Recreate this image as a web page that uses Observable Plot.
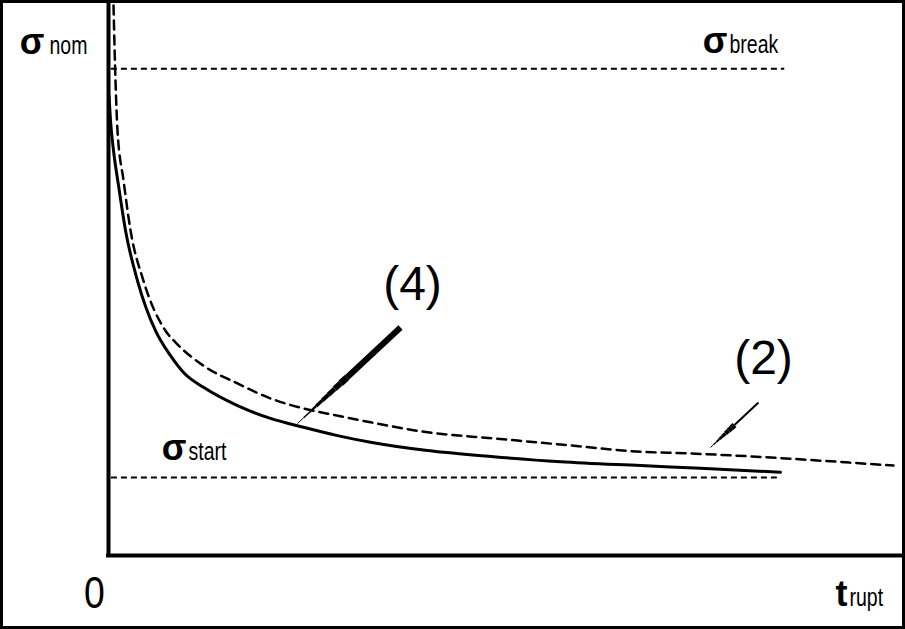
<!DOCTYPE html>
<html>
<head>
<meta charset="utf-8">
<script src="https://cdn.jsdelivr.net/npm/d3@7"></script>
<script src="https://cdn.jsdelivr.net/npm/@observablehq/plot@0.6"></script>
<style>
  html, body { margin: 0; padding: 0; background: #fff; }
  #chart svg { display: block; outline: 3px solid #000; outline-offset: -3px; }
</style>
</head>
<body>
<div id="chart"></div>
<script>
// ---- data (arbitrary units: t 0..100, sigma 0..100) ----
const curve4T     = [0.06, 0.25, 0.63, 1.26, 2.14, 3.65, 5.91, 7.80, 9.56, 11.95, 16.23, 20.38, 24.53, 28.81, 32.96, 40.13, 48.43, 56.86, 66.92, 74.47, 84.53];
const curve4Sigma = [82.9, 78.4, 72.97, 66.67, 58.56, 49.5, 40.5, 36.0, 32.79, 30.3, 27.0, 24.7, 23.1, 21.6, 20.4, 18.9, 17.8, 16.9, 16.2, 15.7, 15.0];

const curve2T     = [0.63, 0.88, 1.13, 1.89, 2.77, 4.40, 7.17, 8.43, 11.95, 16.23, 20.38, 24.53, 28.81, 32.96, 40.13, 48.43, 56.86, 66.92, 72.83, 98.74];
const curve2Sigma = [99.1, 85.6, 76.6, 67.6, 58.6, 49.5, 40.5, 38.4, 34.2, 31.0, 28.3, 26.5, 25.2, 24.0, 22.2, 21.1, 20.0, 18.7, 18.4, 16.2];

const levelNames  = ["break", "start"];
const levelValues = [87.7, 14.05];
const levelT1     = [0.3, 0.3];
const levelT2     = [85.0, 84.5];

// symbol labels: main glyph + subscript
const symbolMain  = ["σ", "σ", "σ", "t"];
const symbolSub   = ["nom", "break", "start", "rupt"];
const symbolMainT = [-8.05, 77.86, 9.81, 92.96];
const symbolSubT  = [-7.42, 78.11, 10.06, 93.21];
const symbolY     = [90.45, 90.63, 17.12, -9.01];

const curveLabels  = ["(4)", "(2)"];
const curveLabelT  = [38.24, 82.39];
const curveLabelY  = [45.95, 32.79];

const originLabel = ["0"];
const originT = [-1.76];
const originY = [-9.37];

// arrows: tail -> tip, taper start fraction
const arrowTailT = [36.73, 81.76];
const arrowTailY = [41.08, 27.57];
const arrowTipT  = [23.77, 75.72];
const arrowTipY  = [23.78, 19.46];
const arrowTaperAt = [0.52, 0.5];
const arrowShaftW  = [6, 2];
const arrowHeadW   = [7, 6];

// ---- build tables ----
const curve4 = curve4T.map((t, i) => ({t, s: curve4Sigma[i]}));
const curve2 = curve2T.map((t, i) => ({t, s: curve2Sigma[i]}));
const levels = levelNames.map((n, i) => ({n, s: levelValues[i], t1: levelT1[i], t2: levelT2[i]}));
const mains = symbolMain.map((m, i) => ({m, t: symbolMainT[i], s: symbolY[i]}));
const subs = symbolSub.map((m, i) => ({m, t: symbolSubT[i], s: symbolY[i]}));
const cLabels = curveLabels.map((m, i) => ({m, t: curveLabelT[i], s: curveLabelY[i]}));
const origin = originLabel.map((m, i) => ({m, t: originT[i], s: originY[i]}));

const arrowSegs = [];
arrowTailT.forEach((_, i) => {
  const x1 = arrowTailT[i], y1 = arrowTailY[i], x2 = arrowTipT[i], y2 = arrowTipY[i];
  const f = arrowTaperAt[i];
  const lerp = (a, b, u) => a + (b - a) * u;
  arrowSegs.push({x1, y1, x2: lerp(x1, x2, f), y2: lerp(y1, y2, f), w: arrowShaftW[i]});
  const steps = 8;
  for (let k = 0; k < steps; k++) {
    const u0 = f + (1 - f) * k / steps, u1 = f + (1 - f) * (k + 1) / steps;
    arrowSegs.push({
      x1: lerp(x1, x2, u0), y1: lerp(y1, y2, u0),
      x2: lerp(x1, x2, u1), y2: lerp(y1, y2, u1),
      w: Math.max(1, arrowHeadW[i] * (1 - (k + 0.3) / steps))
    });
  }
});

const sans = "'Liberation Sans', Arial, sans-serif";

const chart = Plot.plot({
  width: 905,
  height: 629,
  marginLeft: 108,
  marginRight: 2,
  marginTop: 0,
  marginBottom: 74,
  x: {domain: [0, 100], axis: null},
  y: {domain: [0, 100], axis: null},
  style: {background: "#fff", overflow: "visible"},
  marks: [
    Plot.link(levels, {x1: "t1", x2: "t2", y1: "s", y2: "s", stroke: "#000", strokeWidth: 2, strokeDasharray: "6,4"}),
    Plot.line(curve2, {x: "t", y: "s", curve: "monotone-x", stroke: "#000", strokeWidth: 2.5, strokeDasharray: "9,6"}),
    Plot.line(curve4, {x: "t", y: "s", curve: "monotone-x", stroke: "#000", strokeWidth: 3}),
    Plot.ruleX([0], {stroke: "#000", strokeWidth: 4}),
    Plot.ruleY([0], {stroke: "#000", strokeWidth: 4, strokeLinecap: "square"}),
    Plot.link(arrowSegs, {x1: "x1", y1: "y1", x2: "x2", y2: "y2", stroke: "#000", strokeWidth: "w", strokeLinecap: "butt"}),
    Plot.text(mains, {x: "t", y: "s", text: "m", textAnchor: "end", lineAnchor: "bottom", fontSize: 36, fontWeight: "bold", fontFamily: sans, fill: "#000"}),
    Plot.text(subs, {x: "t", y: "s", text: "m", textAnchor: "start", lineAnchor: "bottom", fontSize: 26, fontFamily: sans, fill: "#000"}),
    Plot.text(cLabels, {x: "t", y: "s", text: "m", textAnchor: "middle", lineAnchor: "bottom", fontSize: 48, fontFamily: sans, fill: "#000"}),
    Plot.text(origin, {x: "t", y: "s", text: "m", textAnchor: "middle", lineAnchor: "bottom", fontSize: 44, fontFamily: sans, fill: "#000"})
  ]
});
document.getElementById("chart").append(chart);

// condense the subscript-style texts horizontally (narrow typeface look)
function condense(words, sx) {
  chart.querySelectorAll("text").forEach((el) => {
    if (!words.includes(el.textContent)) return;
    const w = el.getComputedTextLength();
    if (w > 0) {
      el.setAttribute("textLength", (w * sx).toFixed(1));
      el.setAttribute("lengthAdjust", "spacingAndGlyphs");
    }
  });
}
condense(symbolSub, 0.75);
condense(originLabel, 0.85);
</script>
</body>
</html>
